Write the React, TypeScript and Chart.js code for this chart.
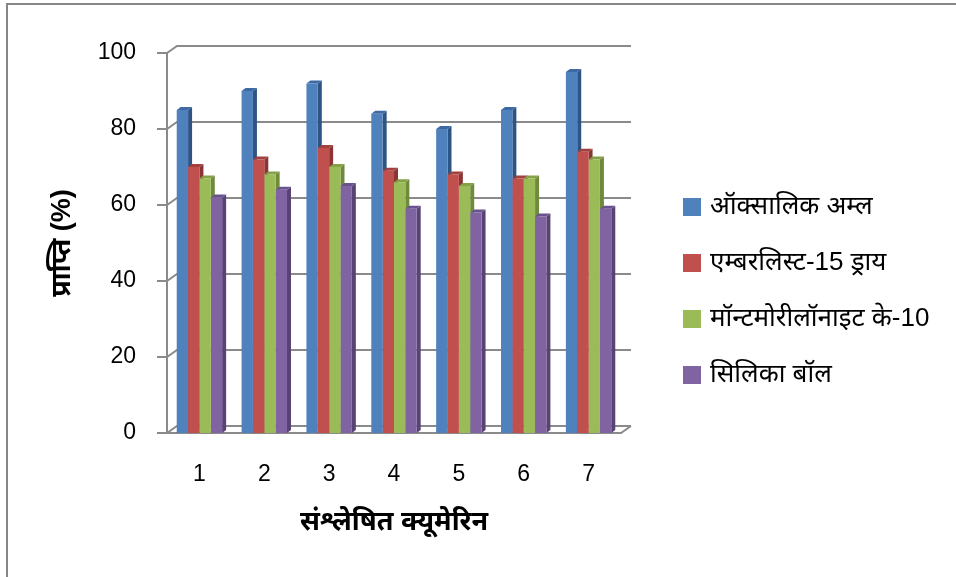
import React, { useEffect, useRef } from "react";
import { Chart, registerables } from "chart.js";

Chart.register(...registerables);

// ---- data ----
const categories = ["1", "2", "3", "4", "5", "6", "7"];
const seriesNames = [
  "ऑक्सालिक अम्ल",
  "एम्बरलिस्ट-15 ड्राय",
  "मॉन्टमोरीलॉनाइट के-10",
  "सिलिका बॉल",
];
const oxalicAcid = [85, 90, 92, 84, 80, 85, 95];
const amberlyst15Dry = [70, 72, 75, 69, 68, 67, 74];
const montmorilloniteK10 = [67, 68, 70, 66, 65, 67, 72];
const silicaBall = [62, 64, 65, 59, 58, 57, 59];
const yMin = 0;
const yMax = 100;
const yStep = 20;
const yTitle = "प्राप्ति (%)";
const xTitle = "संश्लेषित क्यूमेरिन";

// ---- styles ----
const frontColors = ["#4F81BD", "#C0504D", "#9BBB59", "#8064A2"];
const sideColors = ["#2E5485", "#8A3533", "#6E8A3A", "#574475"];
const topColors = ["#3E6AA3", "#A2403D", "#84A147", "#6A5290"];
const FONT = "Arial, 'Liberation Sans', 'Noto Sans', sans-serif";
const GRID = "#8a8a8a";
const WALL_DX = 10;
const WALL_DY = -7;
const BAR_DX = 4;
const BAR_DY = -3;

const threeD = {
  id: "threeD",
  beforeDraw(chart: any) {
    const ctx = chart.ctx;
    ctx.save();
    ctx.strokeStyle = "#868686";
    ctx.lineWidth = 2;
    ctx.beginPath();
    ctx.moveTo(7, 577);
    ctx.lineTo(7, 4);
    ctx.lineTo(956, 4);
    ctx.stroke();
    ctx.restore();
  },
  beforeDatasetsDraw(chart: any) {
    const ctx = chart.ctx;
    const { left, right, top, bottom } = chart.chartArea;
    const ys = chart.scales.y;
    ctx.save();
    ctx.strokeStyle = GRID;
    ctx.lineWidth = 2;
    ctx.beginPath();
    ys.ticks.forEach((t: any) => {
      const y = ys.getPixelForValue(t.value);
      ctx.moveTo(left - 10, y);
      ctx.lineTo(left, y);
      ctx.lineTo(left + WALL_DX, y + WALL_DY);
      ctx.lineTo(right + WALL_DX, y + WALL_DY);
    });
    ctx.moveTo(left, top);
    ctx.lineTo(left, bottom);
    ctx.moveTo(left, bottom);
    ctx.lineTo(right, bottom);
    ctx.lineTo(right + WALL_DX, bottom + WALL_DY);
    ctx.stroke();
    ctx.restore();

    // side and top faces of bars
    ctx.save();
    chart.data.datasets.forEach((ds: any, di: number) => {
      const meta = chart.getDatasetMeta(di);
      meta.data.forEach((el: any) => {
        const { x, y, base, width } = el.getProps(["x", "y", "base", "width"], true);
        const l = x - width / 2;
        const r = x + width / 2;
        ctx.fillStyle = sideColors[di];
        ctx.beginPath();
        ctx.moveTo(r, y);
        ctx.lineTo(r + BAR_DX, y + BAR_DY);
        ctx.lineTo(r + BAR_DX, base + BAR_DY);
        ctx.lineTo(r, base);
        ctx.closePath();
        ctx.fill();
        ctx.fillStyle = topColors[di];
        ctx.beginPath();
        ctx.moveTo(l, y);
        ctx.lineTo(l + BAR_DX, y + BAR_DY);
        ctx.lineTo(r + BAR_DX, y + BAR_DY);
        ctx.lineTo(r, y);
        ctx.closePath();
        ctx.fill();
      });
    });
    ctx.restore();
  },
  afterDraw(chart: any) {
    const ctx = chart.ctx;
    ctx.save();
    ctx.font = `26px ${FONT}`;
    ctx.textBaseline = "middle";
    ctx.textAlign = "left";
    chart.data.datasets.forEach((ds: any, i: number) => {
      const cy = 207 + i * 56;
      ctx.fillStyle = ds.backgroundColor;
      ctx.fillRect(683, cy - 9, 18, 18);
      ctx.fillStyle = "#000";
      ctx.fillText(ds.label, 710, cy);
    });
    ctx.restore();
  },
};

export default function App() {
  const ref = useRef<HTMLCanvasElement | null>(null);
  useEffect(() => {
    if (!ref.current) return;
    const series = [oxalicAcid, amberlyst15Dry, montmorilloniteK10, silicaBall];
    const chart = new Chart(ref.current, {
      type: "bar",
      data: {
        labels: categories,
        datasets: series.map((d, i) => ({
          label: seriesNames[i],
          data: d,
          backgroundColor: frontColors[i],
          borderWidth: 0,
          categoryPercentage: 0.7,
          barPercentage: 1,
        })),
      },
      options: {
        responsive: false,
        animation: false,
        devicePixelRatio: 1,
        layout: { padding: { top: 53, right: 335, left: 0, bottom: 0 } },
        plugins: {
          legend: { display: false },
          tooltip: { enabled: false },
        },
        scales: {
          x: {
            grid: { display: false, drawTicks: false },
            border: { display: false },
            ticks: { color: "#000", font: { size: 23, family: FONT }, padding: 28, maxRotation: 0 },
            title: {
              display: true,
              text: xTitle,
              color: "#000",
              font: { size: 27, weight: "bold", family: FONT },
              padding: { top: 0, bottom: 38 },
            },
            afterFit: (s: any) => {
              s.height = 144;
            },
          },
          y: {
            min: yMin,
            max: yMax,
            grid: { display: false, drawTicks: false },
            border: { display: false },
            ticks: { stepSize: yStep, color: "#000", font: { size: 23, family: FONT }, padding: 31 },
            title: {
              display: true,
              text: yTitle,
              color: "#000",
              font: { size: 27, weight: "bold", family: FONT },
              padding: { top: 46, bottom: 0 },
            },
            afterFit: (s: any) => {
              s.width = 167;
            },
          },
        },
      },
      plugins: [threeD],
    });
    return () => chart.destroy();
  }, []);
  return (
    <div style={{ position: "absolute", left: 0, top: 0, width: 956, height: 577, background: "#fff" }}>
      <canvas ref={ref} width={956} height={577} style={{ display: "block" }} />
    </div>
  );
}
